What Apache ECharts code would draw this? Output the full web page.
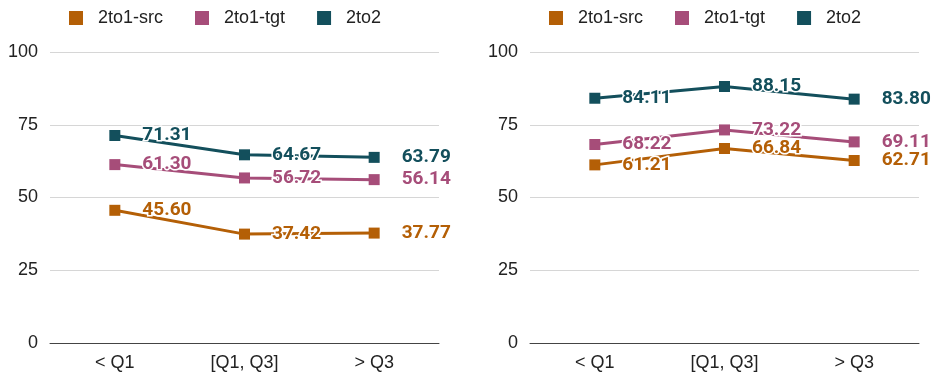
<!DOCTYPE html>
<html>
<head>
<meta charset="utf-8">
<script src="https://cdn.jsdelivr.net/npm/echarts@6/dist/echarts.min.js"></script>
<style>
  html, body { margin: 0; padding: 0; background: #fff; }
  #chart { width: 932px; height: 376px; }
</style>
</head>
<body>
<div id="chart"></div>
<script>
// Quartile buckets along the x axis
const categories = ['< Q1', '[Q1, Q3]', '> Q3'];
const seriesNames = ['2to1-src', '2to1-tgt', '2to2'];
const yTicks = [0, 25, 50, 75, 100];

// Left panel scores
const leftSrc = [45.60, 37.42, 37.77];
const leftTgt = [61.30, 56.72, 56.14];
const leftTwo = [71.31, 64.67, 63.79];

// Right panel scores
const rightSrc = [61.21, 66.84, 62.71];
const rightTgt = [68.22, 73.22, 69.11];
const rightTwo = [84.11, 88.15, 83.80];

const colors = ['#b45f06', '#a64d79', '#134f5c'];
const axisFont = 'Liberation Sans, Arial, sans-serif';
const labelFont = 'Roboto, sans-serif';

const chart = echarts.init(document.getElementById('chart'));

function makeGrid(left) {
  return { left: left, width: 389, top: 52, height: 291, containLabel: false };
}

function makeXAxis(idx) {
  return {
    type: 'category',
    gridIndex: idx,
    data: categories,
    boundaryGap: true,
    axisLine: { show: true, lineStyle: { color: '#444', width: 1 } },
    axisTick: { show: false },
    axisLabel: { color: '#222', fontSize: 18, fontFamily: axisFont, margin: 11 },
    splitLine: { show: false }
  };
}

function makeYAxis(idx) {
  return {
    type: 'value',
    gridIndex: idx,
    min: yTicks[0],
    max: yTicks[yTicks.length - 1],
    interval: yTicks[1] - yTicks[0],
    axisLine: { show: false },
    axisTick: { show: false },
    axisLabel: { color: '#222', fontSize: 18, fontFamily: axisFont, margin: 12 },
    splitLine: { show: true, lineStyle: { color: '#d6d6d6', width: 1 } }
  };
}

function makeSeries(name, values, color, idx) {
  return {
    name: name,
    type: 'line',
    xAxisIndex: idx,
    yAxisIndex: idx,
    data: values,
    symbol: 'rect',
    symbolSize: 11,
    lineStyle: { color: color, width: 3 },
    itemStyle: { color: color },
    label: {
      show: true,
      position: 'right',
      distance: 22,
      color: color,
      fontFamily: labelFont,
      fontWeight: 'bold',
      fontSize: 19,
      textBorderColor: '#fff',
      textBorderWidth: 3,
      formatter: p => p.value.toFixed(2)
    },
    emphasis: { disabled: true },
    animation: false
  };
}

function makeLegend(left) {
  return {
    left: left,
    top: 4,
    itemWidth: 14,
    itemHeight: 14,
    itemGap: 32,
    icon: 'rect',
    data: seriesNames,
    textStyle: { color: '#222', fontSize: 18, fontFamily: axisFont, padding: [0, 0, 0, 10] }
  };
}

chart.setOption({
  color: colors,
  animation: false,
  legend: [makeLegend(64), makeLegend(544)],
  grid: [makeGrid(50), makeGrid(530)],
  xAxis: [makeXAxis(0), makeXAxis(1)],
  yAxis: [makeYAxis(0), makeYAxis(1)],
  series: [
    makeSeries(seriesNames[0], leftSrc, colors[0], 0),
    makeSeries(seriesNames[1], leftTgt, colors[1], 0),
    makeSeries(seriesNames[2], leftTwo, colors[2], 0),
    makeSeries(seriesNames[0], rightSrc, colors[0], 1),
    makeSeries(seriesNames[1], rightTgt, colors[1], 1),
    makeSeries(seriesNames[2], rightTwo, colors[2], 1)
  ]
});
</script>
</body>
</html>
